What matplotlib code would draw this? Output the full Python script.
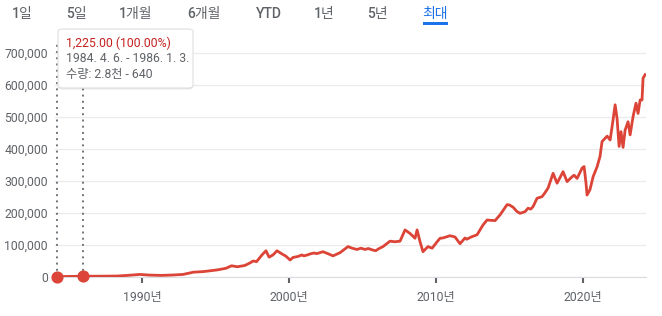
import matplotlib
matplotlib.use('Agg')
import matplotlib.pyplot as plt
from matplotlib.patches import FancyBboxPatch, Rectangle

plt.rcParams['font.family'] = ['Roboto', 'Noto Sans CJK KR', 'DejaVu Sans']

''' data read off the chart (value in thousands) '''

years = [1984.26, 1986.01, 1987.0, 1988.3, 1989.0, 1989.87, 1990.5, 1991.3, 1992.0, 1992.8,
         1993.5, 1994.2, 1995.1, 1995.7, 1996.1, 1996.5, 1997.0, 1997.4, 1997.56, 1997.8,
         1998.17, 1998.44, 1998.65, 1998.92, 1999.19, 1999.53, 1999.8, 2000.08, 2000.28, 2000.6,
         2000.89, 2001.0, 2001.2, 2001.44, 2001.7, 2001.9, 2002.32, 2002.7, 2003.0, 2003.48,
         2004.02, 2004.3, 2004.63, 2004.9, 2005.18, 2005.4, 2005.72, 2005.9, 2006.1, 2006.4,
         2006.88, 2007.2, 2007.56, 2007.9, 2008.24, 2008.58, 2008.72, 2008.92, 2009.12, 2009.46,
         2009.74, 2010.08, 2010.28, 2010.48, 2010.96, 2011.3, 2011.64, 2011.98, 2012.1, 2012.4,
         2012.8, 2013.21, 2013.48, 2014.02, 2014.36, 2014.84, 2015.0, 2015.25, 2015.5, 2015.72,
         2016.06, 2016.27, 2016.45, 2016.61, 2016.88, 2017.22, 2017.4, 2017.63, 2017.97, 2018.24,
         2018.65, 2018.92, 2019.26, 2019.4, 2019.6, 2019.75, 2019.94, 2020.08, 2020.21, 2020.28,
         2020.48, 2020.69, 2020.96, 2021.16, 2021.3, 2021.5, 2021.65, 2021.85, 2022.05, 2022.19,
         2022.32, 2022.46, 2022.59, 2022.73, 2022.87, 2023.07, 2023.21, 2023.41, 2023.5, 2023.61,
         2023.75, 2023.89, 2024.02, 2024.09, 2024.23]

values_k = [1.2, 2.45, 2.5, 3, 5, 8, 6, 5, 6, 8,
            15, 17, 22, 27, 35, 32, 36, 45, 50, 48,
            69, 82, 62, 69, 82, 72, 65, 53, 61, 64,
            69, 66, 68, 72, 75, 73, 79, 72, 66, 76,
            95, 90, 86, 90, 86, 89, 84, 82, 88, 95,
            112, 110, 112, 147, 136, 121, 147, 110, 79, 95,
            90, 110, 121, 122, 129, 125, 104, 122, 118, 125,
            132, 163, 178, 176, 194, 226, 225, 218, 205, 199,
            204, 215, 212, 220, 246, 251, 262, 278, 324, 293,
            329, 298, 313, 318, 308, 322, 340, 345, 293, 256,
            273, 313, 344, 376, 423, 433, 440, 428, 491, 538,
            496, 408, 454, 405, 459, 485, 444, 501, 520, 543,
            511, 553, 553, 621, 632]

values = [v * 1000 for v in values_k]

range_years = [1984.26, 1986.01]
range_values = [1225, 2450]

tabs = ['1일', '5일', '1개월', '6개월', 'YTD', '1년', '5년', '최대']
tab_x = [22, 76, 136, 204, 269, 324, 377, 435]

y_ticks = [0, 100000, 200000, 300000, 400000, 500000, 600000, 700000]
x_ticks = [1990, 2000, 2010, 2020]

tooltip_lines = ['1,225.00 (100.00%)', '1984. 4. 6. - 1986. 1. 3.', '수량: 2.8천 - 640']

W, H = 662, 316
fig = plt.figure(figsize=(W / 100, H / 100), dpi=100)
ax = fig.add_axes([55 / W, 1 - 277 / H, 591 / W, (277 - 43) / H])

ax.plot(years, values, color='#db4437', lw=2.0, solid_joinstyle='round', zorder=3)

ax.set_xlim(1984.09, 2024.29)
ax.set_ylim(0, 731000)

ax.set_yticks(y_ticks)
ax.set_yticklabels(['{:,}'.format(t) for t in y_ticks])
ax.set_xticks(x_ticks)
ax.set_xticklabels(['{}년'.format(t) for t in x_ticks])

ax.grid(axis='y', color='#ebebeb', lw=1)
ax.set_axisbelow(True)
for s in ['top', 'right', 'left']:
    ax.spines[s].set_visible(False)
ax.spines['bottom'].set_color('#dadce0')
ax.tick_params(axis='y', length=0, pad=5, labelsize=8.8, labelcolor='#5f6368')
ax.tick_params(axis='x', length=4, width=1.5, color='#5f6368', pad=6,
               labelsize=8.8, labelcolor='#5f6368')

# dotted range markers
for yr in range_years:
    ax.axvline(yr, ymin=0, ymax=1.0, color='#70757a', lw=1.4, ls=(0, (1, 2.2)), zorder=2,
               clip_on=False)
ax.scatter(range_years, range_values, s=60, color='#db4437', zorder=5, clip_on=False)

# tabs on top
for lbl, x in zip(tabs, tab_x):
    c = '#1a73e8' if lbl == '최대' else '#5f6368'
    fig.text(x / W, 1 - 14 / H, lbl, ha='center', va='center', fontsize=10,
             color=c, fontweight='medium')
fig.add_artist(Rectangle((423 / W, 1 - 24.5 / H), 25 / W, 2.2 / H,
                         transform=fig.transFigure, color='#1a73e8', lw=0))

# tooltip
bx0, by0, bx1, by1 = 58, 29, 193, 88
shadow = FancyBboxPatch((bx0 / W, 1 - (by1 + 1.5) / H), (bx1 - bx0) / W, (by1 - by0) / H,
                        boxstyle='round,pad=0,rounding_size=0.008',
                        transform=fig.transFigure, fc='#00000018', ec='none', zorder=10)
box = FancyBboxPatch((bx0 / W, 1 - by1 / H), (bx1 - bx0) / W, (by1 - by0) / H,
                     boxstyle='round,pad=0,rounding_size=0.008',
                     transform=fig.transFigure, fc='white', ec='#e0e0e0', lw=0.8, zorder=11)
fig.add_artist(shadow)
fig.add_artist(box)
for i, (t, yy) in enumerate(zip(tooltip_lines, [43, 59, 75])):
    fig.text(66 / W, 1 - yy / H, t, ha='left', va='center', fontsize=8.8,
             color='#c5221f' if i == 0 else '#5f6368', zorder=12)

fig.savefig('out.png', dpi=100)
